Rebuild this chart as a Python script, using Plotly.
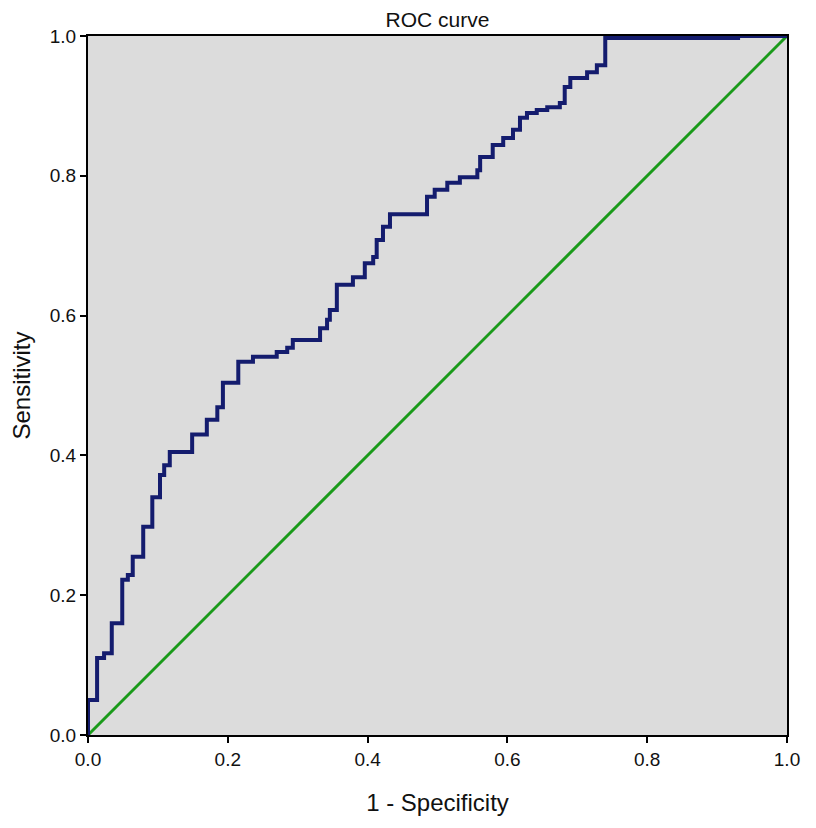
import plotly.graph_objects as go

fpr = [0.0, 0.0, 0.013, 0.023, 0.034, 0.049, 0.057, 0.064, 0.079, 0.092, 0.103, 0.109,
       0.117, 0.149, 0.170, 0.185, 0.193, 0.215, 0.236, 0.270, 0.285, 0.293, 0.332,
       0.342, 0.346, 0.356, 0.379, 0.396, 0.408, 0.413, 0.422, 0.432, 0.485, 0.496,
       0.514, 0.532, 0.557, 0.561, 0.579, 0.594, 0.608, 0.618, 0.628, 0.642, 0.657,
       0.675, 0.682, 0.690, 0.714, 0.728, 0.740, 0.930, 1.0]
tpr = [0.0, 0.05, 0.11, 0.117, 0.16, 0.222, 0.229, 0.255, 0.298, 0.34, 0.372, 0.386,
       0.405, 0.43, 0.451, 0.469, 0.504, 0.534, 0.541, 0.548, 0.554, 0.565, 0.582,
       0.594, 0.608, 0.644, 0.655, 0.675, 0.684, 0.708, 0.727, 0.745, 0.77, 0.78,
       0.79, 0.798, 0.808, 0.827, 0.844, 0.854, 0.866, 0.883, 0.89, 0.894, 0.898,
       0.904, 0.927, 0.94, 0.948, 0.958, 0.997, 1.0, 1.0]
ref_x = [0, 1]
ref_y = [0, 1]
tick_vals = [0.0, 0.2, 0.4, 0.6, 0.8, 1.0]
tick_text = ["0.0", "0.2", "0.4", "0.6", "0.8", "1.0"]

FONT = "Liberation Sans, Arial, sans-serif"

fig = go.Figure()
fig.add_trace(go.Scatter(x=ref_x, y=ref_y, mode="lines",
                         line=dict(color="#1a9a1a", width=3), showlegend=False))
fig.add_trace(go.Scatter(x=fpr, y=tpr, mode="lines", line_shape="hv",
                         line=dict(color="#141c6e", width=4), showlegend=False,
                         cliponaxis=False))

axis_common = dict(range=[0, 1], tickvals=tick_vals, ticktext=tick_text,
                   showgrid=False, zeroline=False, showline=True, mirror=True,
                   linecolor="black", linewidth=2, ticks="outside", ticklen=6,
                   tickcolor="black", tickwidth=2, automargin=False,
                   tickfont=dict(family=FONT, size=19, color="#111"))

fig.update_layout(
    width=816, height=828,
    margin=dict(l=80, r=37, t=28, b=101),
    paper_bgcolor="white", plot_bgcolor="#dcdcdc",
    title=dict(text="ROC curve", x=0.5, xref="paper", xanchor="center",
               yref="container", y=1 - 4 / 828, yanchor="top",
               font=dict(family=FONT, size=21, color="#111")),
    xaxis=dict(**axis_common, title=dict(text="1 - Specificity", standoff=25,
               font=dict(family=FONT, size=24, color="#111"))),
    yaxis=dict(**axis_common, title=dict(text="Sensitivity", standoff=25,
               font=dict(family=FONT, size=24, color="#111"))),
)

fig.write_html("out.html")
